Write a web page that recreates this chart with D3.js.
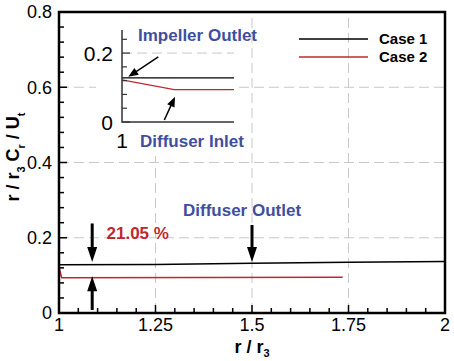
<!DOCTYPE html>
<html><head><meta charset="utf-8">
<script src="https://cdn.jsdelivr.net/npm/d3@7"></script>
<style>body{margin:0;background:#fff}svg{display:block}text{font-family:"Liberation Sans",Arial,sans-serif}</style>
</head><body><svg id="c" width="454" height="361"></svg>
<script>
// ---- data ----
const case1 = [[1,0.128],[1.25,0.129],[1.5,0.132],[1.75,0.135],[2,0.137]];
const case2 = [[1,0.122],[1.007,0.094],[1.735,0.095]];
const xTicks = [1,1.25,1.5,1.75,2];
const xTickLabels = ["1","1.25","1.5","1.75","2"];
const yTicks = [0,0.2,0.4,0.6,0.8];
const yTickLabels = ["0","0.2","0.4","0.6","0.8"];
const insetYTicks = [0,0.2];
const insetYTickLabels = ["0","0.2"];
const insetXTicks = [1];
const insetXTickLabels = ["1"];
const seriesNames = ["Case 1","Case 2"];

const svg = d3.select("#c");
const L=59,R=445,T=12,B=313;
const x = d3.scaleLinear().domain([1,2]).range([L,R]);
const y = d3.scaleLinear().domain([0,0.8]).range([B,T]);
const colors = ["#000000","#c0272d"];
const blue = "#3f4fa0";

// gridlines
const grid = svg.append("g").attr("stroke","#c8c8c8").attr("stroke-width",1).attr("stroke-dasharray","10,5");
[1.25,1.5,1.75].forEach(v=>grid.append("line").attr("x1",x(v)).attr("x2",x(v)).attr("y1",B).attr("y2",T));
[0.2,0.4,0.6].forEach(v=>grid.append("line").attr("x1",L).attr("x2",R).attr("y1",y(v)).attr("y2",y(v)));

// clip
svg.append("clipPath").attr("id","pc").append("rect").attr("x",L).attr("y",T).attr("width",R-L).attr("height",B-T);

const line = d3.line().x(d=>x(d[0])).y(d=>y(d[1]));
[case1,case2].forEach((s,i)=>svg.append("path").attr("d",line(s)).attr("fill","none")
  .attr("stroke",colors[i]).attr("stroke-width",1.5).attr("clip-path","url(#pc)"));

// ticks (inward)
const tk = svg.append("g").attr("stroke","#000").attr("stroke-width",1.5);
d3.range(0,0.8001,0.04).forEach(v=>{
  const major = Math.abs(v/0.2-Math.round(v/0.2))<1e-6;
  tk.append("line").attr("x1",L).attr("x2",L+(major?8:5)).attr("y1",y(v)).attr("y2",y(v));
});
d3.range(1,2.0001,0.05).forEach(v=>{
  const major = Math.abs((v-1)/0.25-Math.round((v-1)/0.25))<1e-6;
  tk.append("line").attr("y1",B).attr("y2",B-(major?8:5)).attr("x1",x(v)).attr("x2",x(v));
});

// frame
svg.append("rect").attr("x",L).attr("y",T).attr("width",R-L).attr("height",B-T)
  .attr("fill","none").attr("stroke","#000").attr("stroke-width",2.5);

// tick labels
yTicks.forEach((v,i)=>svg.append("text").attr("x",L-7).attr("y",y(v)).attr("dy","0.36em")
  .attr("text-anchor","end").attr("font-size",18).text(yTickLabels[i]));
xTicks.forEach((v,i)=>svg.append("text").attr("x",x(v)).attr("y",B+18)
  .attr("text-anchor","middle").attr("font-size",18).text(xTickLabels[i]));

// axis titles
const xt = svg.append("text").attr("x",x(1.5)).attr("y",353).attr("text-anchor","middle")
  .attr("font-size",18).attr("font-weight","bold");
xt.append("tspan").text("r / r");
xt.append("tspan").attr("font-size",11).attr("dy",4).text("3");
const yt = svg.append("text").attr("transform","translate(19,157) rotate(-90)").attr("text-anchor","middle")
  .attr("font-size",18).attr("font-weight","bold");
yt.append("tspan").text("r / r");
yt.append("tspan").attr("font-size",11).attr("dy",6).text("3");
yt.append("tspan").attr("dy",-6).text(" C");
yt.append("tspan").attr("font-size",11).attr("dy",6).text("r");
yt.append("tspan").attr("dy",-6).text(" / U");
yt.append("tspan").attr("font-size",11).attr("dy",6).text("t");

// legend
seriesNames.forEach((n,i)=>{
  const yy = 39+i*18;
  svg.append("line").attr("x1",299).attr("x2",368).attr("y1",yy).attr("y2",yy).attr("stroke",colors[i]).attr("stroke-width",1.5);
  svg.append("text").attr("x",379).attr("y",yy+4.5).attr("font-size",15).attr("font-weight","bold").text(n);
});

// arrow helper
function arrow(g,x1,y1,x2,y2,w,hl,hw){
  const a=Math.atan2(y2-y1,x2-x1), c=Math.cos(a), s=Math.sin(a);
  const bx=x2-hl*c, by=y2-hl*s;
  g.append("line").attr("x1",x1).attr("y1",y1).attr("x2",bx+c).attr("y2",by+s).attr("stroke","#000").attr("stroke-width",w);
  g.append("path").attr("d",`M${x2},${y2}L${bx-hw*s},${by+hw*c}L${bx+hw*s},${by-hw*c}Z`).attr("fill","#000");
}

// main annotations
const ann = svg.append("g");
arrow(ann,x(1.086),y(0.238),x(1.086),y(0.1355),3,15,5);
arrow(ann,x(1.086),y(0.008),x(1.086),y(0.0975),3,15,5);
arrow(ann,x(1.5),y(0.234),x(1.5),y(0.1355),3,15,5);
svg.append("text").attr("x",106.5).attr("y",239).attr("font-size",17).attr("font-weight","bold").attr("fill","#c0272d").text("21.05 %");
svg.append("text").attr("x",183).attr("y",216).attr("font-size",17).attr("font-weight","bold").attr("fill",blue).text("Diffuser Outlet");

// ---- inset ----
const IL=122, IR=234, IB=122, IT=30;
svg.append("rect").attr("x",96).attr("y",T+2).attr("width",141).attr("height",142).attr("fill","#fff");
const ix = d3.scaleLinear().domain([1,1.015]).range([IL,IR]);
const iy = d3.scaleLinear().domain([0,0.267]).range([IB,IT]);
svg.append("clipPath").attr("id","ic").append("rect").attr("x",IL).attr("y",IT).attr("width",IR-IL).attr("height",IB-IT);
svg.append("line").attr("x1",IL).attr("x2",IR).attr("y1",iy(0.2)).attr("y2",iy(0.2))
  .attr("stroke","#c8c8c8").attr("stroke-dasharray","10,5");
const iline = d3.line().x(d=>ix(d[0])).y(d=>iy(d[1]));
[case1,case2].forEach((s,i)=>svg.append("path").attr("d",iline(s)).attr("fill","none")
  .attr("stroke",colors[i]).attr("stroke-width",1.3).attr("clip-path","url(#ic)"));
const itk = svg.append("g").attr("stroke","#333").attr("stroke-width",1.2);
d3.range(0,0.2601,0.04).forEach(v=>{
  const major = Math.abs(v/0.2-Math.round(v/0.2))<1e-6;
  itk.append("line").attr("x1",IL).attr("x2",IL+(major?8:5)).attr("y1",iy(v)).attr("y2",iy(v));
});
svg.append("path").attr("d",`M${IL},${IT}V${IB}H${IR}`).attr("fill","none").attr("stroke","#333").attr("stroke-width",1.5);
insetYTicks.forEach((v,i)=>svg.append("text").attr("x",IL-9).attr("y",iy(v)).attr("dy","0.36em")
  .attr("text-anchor","end").attr("font-size",21).text(insetYTickLabels[i]));
insetXTicks.forEach((v,i)=>svg.append("text").attr("x",ix(v)).attr("y",IB+26)
  .attr("text-anchor","middle").attr("font-size",21).text(insetXTickLabels[i]));
const ia = svg.append("g");
arrow(ia,ix(1.00486),iy(0.189),ix(1.00084),iy(0.131),1.5,10,4);
arrow(ia,ix(1.00567),iy(0.0058),ix(1.0071),iy(0.0733),1.5,10,4);
svg.append("text").attr("x",138).attr("y",41).attr("font-size",17).attr("font-weight","bold").attr("fill",blue).text("Impeller Outlet");
svg.append("text").attr("x",140).attr("y",147).attr("font-size",17).attr("font-weight","bold").attr("fill",blue).text("Diffuser Inlet");
</script></body></html>
